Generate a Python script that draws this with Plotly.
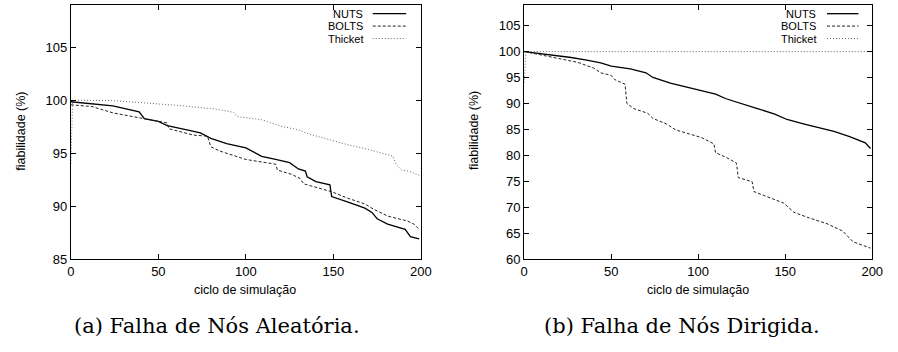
import plotly.graph_objects as go

# ---------------- data ----------------
series_names = ["NUTS", "BOLTS", "Thicket"]
x_tick_vals = [0, 50, 100, 150, 200]
ya_tick_vals = [85, 90, 95, 100, 105]
yb_tick_vals = [60, 65, 70, 75, 80, 85, 90, 95, 100, 105]

# (a) Falha de Nós Aleatória
a_nuts_x = [0, 24, 39, 42, 50, 55, 67, 74, 80, 89, 100, 109, 117, 125, 130, 134, 135, 140, 148, 149, 158, 168, 172, 175, 181, 191, 194, 199]
a_nuts_y = [99.85, 99.47, 98.9, 98.25, 98.0, 97.6, 97.17, 96.9, 96.4, 95.9, 95.5, 94.7, 94.4, 94.1, 93.5, 93.3, 92.75, 92.3, 92.0, 90.9, 90.4, 89.8, 89.4, 88.8, 88.3, 87.8, 87.1, 86.9]
a_bolts_x = [0, 12, 24, 37, 44, 55, 56, 70, 78, 80, 85, 100, 117, 118, 126, 131, 133, 140, 149, 158, 168, 173, 181, 192, 196, 199]
a_bolts_y = [99.56, 99.4, 98.8, 98.4, 98.15, 97.85, 97.3, 96.7, 96.6, 95.6, 95.2, 94.4, 93.95, 93.4, 93.0, 92.6, 92.1, 91.8, 91.35, 90.75, 90.2, 89.7, 89.05, 88.6, 88.3, 87.8]
a_thicket_x = [0, 1, 25, 48, 64, 83, 93, 95, 109, 121, 130, 136, 145, 158, 170, 184, 186, 189, 193, 199]
a_thicket_y = [94.0, 100.0, 99.95, 99.7, 99.47, 99.15, 98.85, 98.45, 98.15, 97.5, 97.2, 96.8, 96.4, 95.8, 95.35, 94.7, 93.9, 93.4, 93.3, 92.9]

# (b) Falha de Nós Dirigida
b_nuts_x = [0, 12, 27, 36, 44, 50, 61, 70, 74, 84, 93, 100, 110, 116, 125, 134, 144, 151, 161, 168, 178, 187, 196, 199]
b_nuts_y = [100, 99.5, 98.85, 98.35, 97.8, 97.2, 96.65, 95.9, 95.0, 93.9, 93.2, 92.7, 91.8, 90.9, 89.9, 89.0, 87.95, 86.9, 86.0, 85.4, 84.6, 83.6, 82.4, 81.3]
b_bolts_x = [0, 17, 31, 40, 44, 50, 52, 58, 59, 63, 71, 74, 82, 87, 95, 102, 109, 110, 116, 122, 123, 131, 132, 140, 149, 155, 163, 174, 183, 189, 199]
b_bolts_y = [100, 98.85, 97.9, 96.8, 95.9, 95.4, 94.6, 93.7, 90.0, 89.0, 88.1, 87.1, 86.0, 84.9, 84.1, 83.4, 82.2, 80.5, 79.6, 78.5, 75.7, 74.9, 73.0, 71.9, 70.8, 69.0, 68.0, 66.8, 65.4, 63.3, 62.1]
b_thicket_x = [0, 1, 200]
b_thicket_y = [94.0, 100.0, 100.0]

x_title = "ciclo de simulação"
y_title = "fiabilidade (%)"
captions = ["(a) Falha de Nós Aleatória.", "(b) Falha de Nós Dirigida."]

# ---------------- styles ----------------
W, H = 898, 352
styles = {
    "NUTS": dict(color="black", width=1.3, dash="solid"),
    "BOLTS": dict(color="#222222", width=1.0, dash="3px,2px"),
    "Thicket": dict(color="#666666", width=1.0, dash="1px,2px"),
}
SANS = "Liberation Sans, Arial, sans-serif"
SERIF = "DejaVu Serif, Liberation Serif, serif"
FS = 13


def px_x(p):
    return p / W


def px_y(p):
    return 1 - p / H


fig = go.Figure()
panels = [
    ("x", "y", [(a_nuts_x, a_nuts_y), (a_bolts_x, a_bolts_y), (a_thicket_x, a_thicket_y)]),
    ("x2", "y2", [(b_nuts_x, b_nuts_y), (b_bolts_x, b_bolts_y), (b_thicket_x, b_thicket_y)]),
]
for xa, ya, data in panels:
    for name, (xs, ys) in zip(series_names, data):
        fig.add_trace(go.Scatter(x=xs, y=ys, mode="lines", name=name, xaxis=xa, yaxis=ya,
                                 line=styles[name], showlegend=False))

axis_common = dict(showline=True, linecolor="black", linewidth=1, mirror="allticks",
                   ticks="inside", ticklen=5, tickcolor="black", tickwidth=1,
                   showgrid=False, zeroline=False,
                   tickfont=dict(family=SANS, size=FS, color="black"))

left_dom = [px_x(68), px_x(424)]
right_dom = [px_x(529), px_x(883)]
ydom = [px_y(265), px_y(5)]

fig.update_layout(
    width=W, height=H, margin=dict(l=0, r=0, t=0, b=0),
    paper_bgcolor="white", plot_bgcolor="white",
    xaxis=dict(domain=left_dom, range=[0, 200], tickvals=x_tick_vals, anchor="y", **axis_common),
    yaxis=dict(domain=ydom, range=[85, 109], tickvals=ya_tick_vals, anchor="x", **axis_common),
    xaxis2=dict(domain=right_dom, range=[0, 200], tickvals=x_tick_vals, anchor="y2", **axis_common),
    yaxis2=dict(domain=ydom, range=[60, 109], tickvals=yb_tick_vals, anchor="x2", **axis_common),
)

annotations = []
shapes = []
# axis titles
for cx, ylab_x in [(245, 17), (706, 478)]:
    annotations.append(dict(text=x_title, x=px_x(cx), y=px_y(297), xref="paper", yref="paper",
                            showarrow=False, xanchor="center", yanchor="middle",
                            font=dict(family=SANS, size=12.5, color="black")))
    annotations.append(dict(text=y_title, x=px_x(ylab_x), y=px_y(134), xref="paper", yref="paper",
                            showarrow=False, xanchor="center", yanchor="middle", textangle=-90,
                            font=dict(family=SANS, size=12.5, color="black")))

# legends (gnuplot style: text then sample)
for text_right, s0, s1 in [(367, 375, 409), (828, 837, 869)]:
    for i, name in enumerate(series_names):
        yy = 14 + 12.7 * i
        annotations.append(dict(text=name, x=px_x(text_right), y=px_y(yy), xref="paper", yref="paper",
                                showarrow=False, xanchor="right", yanchor="middle",
                                font=dict(family=SANS, size=11, color="black")))
        st = styles[name]
        shapes.append(dict(type="line", xref="paper", yref="paper",
                           x0=px_x(s0), x1=px_x(s1), y0=px_y(yy), y1=px_y(yy),
                           line=dict(color=st["color"], width=st["width"], dash=st["dash"])))

# captions
for cx, cap in zip([217, 690], captions):
    annotations.append(dict(text=cap, x=px_x(cx), y=px_y(334), xref="paper", yref="paper",
                            showarrow=False, xanchor="center", yanchor="middle",
                            font=dict(family=SERIF, size=21, color="black")))

fig.update_layout(annotations=annotations, shapes=shapes)
fig.write_html("out.html", config={"displayModeBar": False},
               post_script="document.body.style.margin='0';document.body.style.padding='0';"
                           "document.documentElement.style.overflow='hidden';")
